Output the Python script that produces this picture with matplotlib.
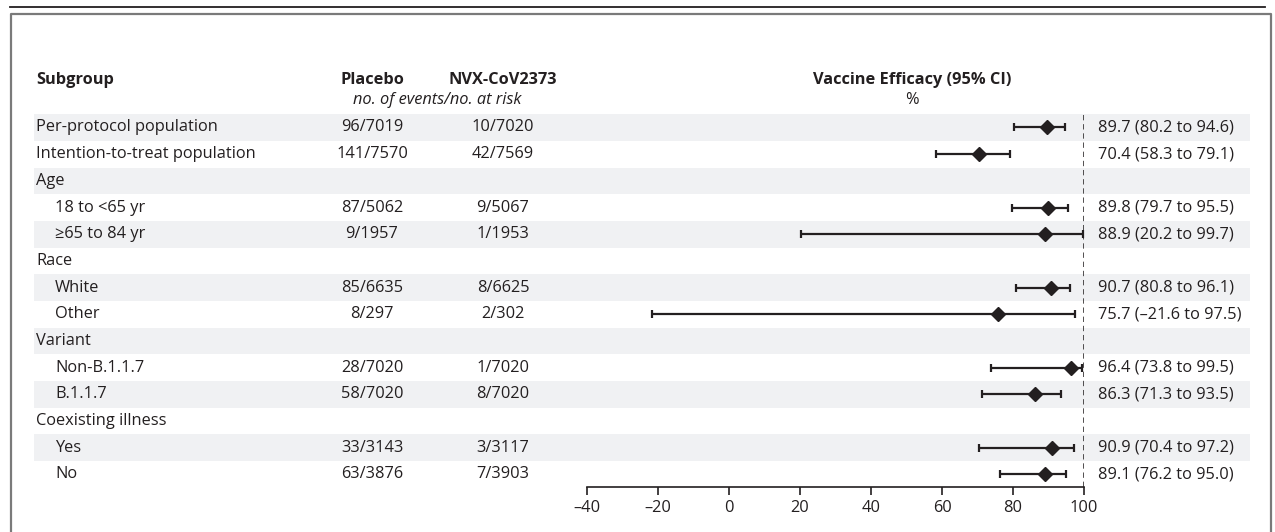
import numpy as np
import matplotlib.pyplot as plt
from matplotlib.lines import Line2D

plt.rcParams['font.family'] = ['Open Sans', 'DejaVu Sans']
ink = '#231f20'
shade = '#f0f1f3'
fs = 11.8

# table data
subgroups = ['Per-protocol population', 'Intention-to-treat population', 'Age',
             '18 to <65 yr', '\u226565 to 84 yr', 'Race', 'White', 'Other',
             'Variant', 'Non-B.1.1.7', 'B.1.1.7', 'Coexisting illness', 'Yes', 'No']
indent = [0, 0, 0, 1, 1, 0, 1, 1, 0, 1, 1, 0, 1, 1]
placebo = ['96/7019', '141/7570', '', '87/5062', '9/1957', '', '85/6635', '8/297',
           '', '28/7020', '58/7020', '', '33/3143', '63/3876']
vaccine = ['10/7020', '42/7569', '', '9/5067', '1/1953', '', '8/6625', '2/302',
           '', '1/7020', '8/7020', '', '3/3117', '7/3903']
efficacy = [89.7, 70.4, np.nan, 89.8, 88.9, np.nan, 90.7, 75.7, np.nan, 96.4, 86.3, np.nan, 90.9, 89.1]
ci_low = [80.2, 58.3, np.nan, 79.7, 20.2, np.nan, 80.8, -21.6, np.nan, 73.8, 71.3, np.nan, 70.4, 76.2]
ci_high = [94.6, 79.1, np.nan, 95.5, 99.7, np.nan, 96.1, 97.5, np.nan, 99.5, 93.5, np.nan, 97.2, 95.0]
xticks = [-40, -20, 0, 20, 40, 60, 80, 100]

W, H = 1275, 532
row0, pitch = 127.5, 26.67   # pixel centre of first row, row height
fig = plt.figure(figsize=(W / 100, H / 100), dpi=100)

# background axes: x in pixels, y in row units
bg = fig.add_axes([0, 0, 1, 1])
bg.set_xlim(0, W)
bg.set_ylim((H - row0) / pitch, -row0 / pitch)
bg.axis('off')

n = len(subgroups)
for i in range(0, n, 2):
    bg.axhspan(i - 0.5, i + 0.5, xmin=34 / W, xmax=1250 / W, color=shade, lw=0, zorder=0)

for i in range(n):
    bg.text(36 + 19 * indent[i], i, subgroups[i], fontsize=fs, color=ink, va='center', ha='left')
    bg.text(372, i, placebo[i], fontsize=fs, color=ink, va='center', ha='center')
    bg.text(503, i, vaccine[i], fontsize=fs, color=ink, va='center', ha='center')
    if not np.isnan(efficacy[i]):
        lab = f'{efficacy[i]:.1f} ({ci_low[i]:.1f} to {ci_high[i]:.1f})'.replace('-', '\u2013')
        bg.text(1098, i, lab, fontsize=fs, color=ink, va='center', ha='left')

yh = (80 - row0) / pitch
ys = (100 - row0) / pitch
bg.text(36, yh, 'Subgroup', fontsize=fs, fontweight='bold', color=ink, va='center')
bg.text(372, yh, 'Placebo', fontsize=fs, fontweight='bold', color=ink, va='center', ha='center')
bg.text(503, yh, 'NVX-CoV2373', fontsize=fs, fontweight='bold', color=ink, va='center', ha='center')
bg.text(912, yh, 'Vaccine Efficacy (95% CI)', fontsize=fs, fontweight='bold', color=ink,
        va='center', ha='center')
bg.text(437, ys, 'no. of events/no. at risk', fontsize=fs, style='italic', color=ink,
        va='center', ha='center')
bg.text(912, ys, '%', fontsize=fs, color=ink, va='center', ha='center')

# forest axes
x0, x1, yb = 587, 1084, 487
ytop = row0 - pitch / 2
ax = fig.add_axes([x0 / W, 1 - yb / H, (x1 - x0) / W, (yb - ytop) / H])
ax.patch.set_alpha(0)
ax.set_xlim(-40, 100)
ax.set_ylim((yb - row0) / pitch, -0.5)

e = np.array(efficacy)
lo = np.array(ci_low)
hi = np.array(ci_high)
rows = np.arange(n)
ok = ~np.isnan(e)
ax.errorbar(e[ok], rows[ok], xerr=[e[ok] - lo[ok], hi[ok] - e[ok]], fmt='D', color=ink,
            ms=6.8, elinewidth=1.6, capsize=2.6, capthick=1.6, clip_on=False, zorder=3)
ax.axvline(100, ymin=0, ymax=1, color=ink, lw=1.1, ls=(0, (3.5, 2.5)), zorder=2)

for s in ['top', 'right', 'left']:
    ax.spines[s].set_visible(False)
ax.spines['bottom'].set_color(ink)
ax.spines['bottom'].set_linewidth(1.2)
ax.set_yticks([])
ax.set_xticks(xticks)
ax.set_xticklabels([str(t).replace('-', '\u2013') for t in xticks])
ax.tick_params(axis='x', direction='out', length=6, width=1.2, color=ink,
               labelsize=fs, labelcolor=ink, pad=3)

# frame lines
fig.add_artist(Line2D([10 / W, 1265 / W], [1 - 7 / H] * 2, color=ink, lw=1.3))
fig.add_artist(Line2D([11 / W, 11 / W, 1271 / W, 1271 / W], [0, 1 - 14 / H, 1 - 14 / H, 0],
                      color='#7a7a7a', lw=1.6))

fig.savefig('out.png', dpi=100)
